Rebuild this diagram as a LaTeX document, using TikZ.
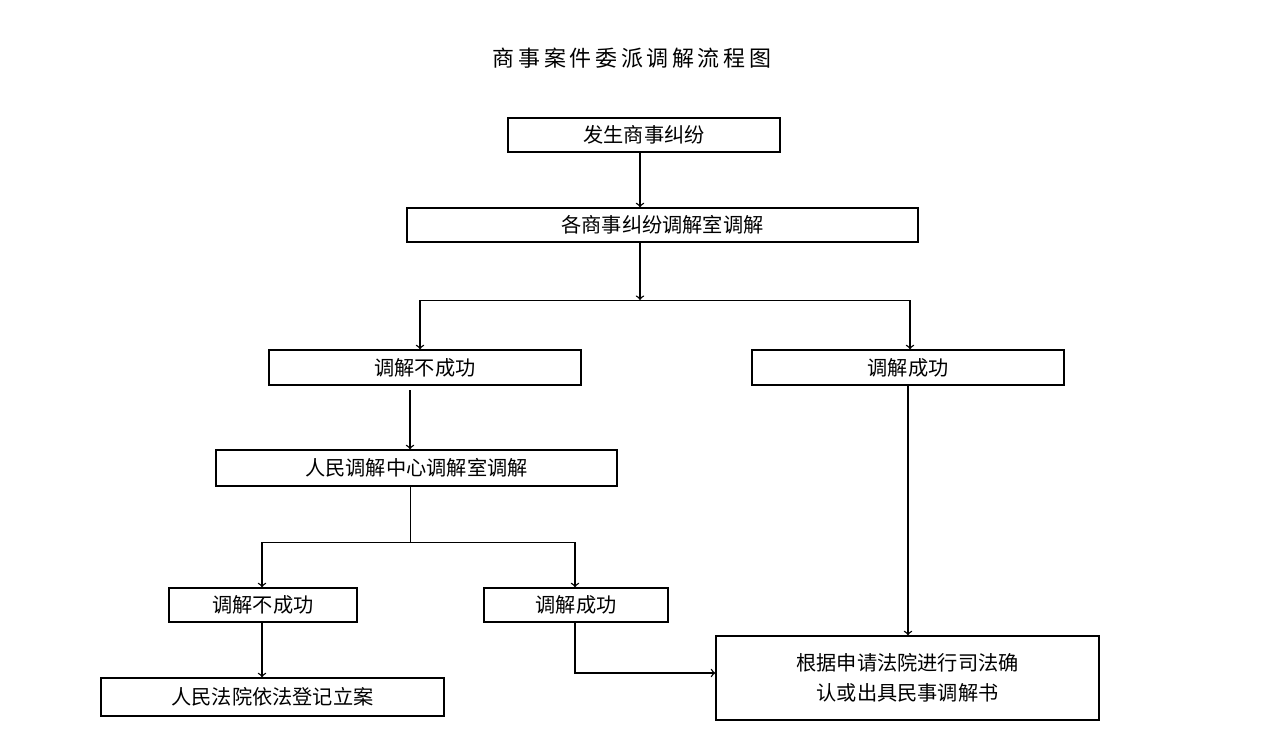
\documentclass[tikz,border=0pt]{standalone}
\usepackage{fontspec}
\newfontfamily\cjk{Noto Sans CJK SC}
\usetikzlibrary{positioning}

\begin{document}
\begin{tikzpicture}[x=0.02cm,y=-0.02cm,
  box/.style={draw,thick,inner sep=0pt,font=\cjk\fontsize{11.5}{17}\selectfont},
  arr/.style={->,thick}]
  \useasboundingbox (0,0) rectangle (1266,753);
  \node[font=\cjk\fontsize{12.5}{15}\selectfont] (title) at (632,58) {商\,事\,案\,件\,委\,派\,调\,解\,流\,程\,图};

  \node[box,minimum width=272*0.02cm,minimum height=34*0.02cm] (start) at (644,135) {发生商事纠纷}; % first box
  \node[box,minimum width=511*0.02cm,minimum height=34*0.02cm] (room) at (662.5,225) {各商事纠纷调解室调解};
  \node[box,minimum width=312*0.02cm,minimum height=35*0.02cm] (failA) at (425,367.5) {调解不成功};
  \node[box,minimum width=312*0.02cm,minimum height=35*0.02cm] (okA) at (908,367.5) {调解成功};
  \node[box,minimum width=401*0.02cm,minimum height=36*0.02cm] (center) at (416.5,468) {人民调解中心调解室调解};
  \node[box,minimum width=188*0.02cm,minimum height=34*0.02cm] (failB) at (263,605) {调解不成功};
  \node[box,minimum width=184*0.02cm,minimum height=34*0.02cm] (okB) at (576,605) {调解成功};
  \node[box,minimum width=343*0.02cm,minimum height=38*0.02cm] (court) at (272.5,697) {人民法院依法登记立案};
  \node[box,minimum width=383*0.02cm,minimum height=84*0.02cm,align=center] (confirm) at (907.5,678) {根据申请法院进行司法确\\认或出具民事调解书};

  \coordinate (splitA) at (640,300);
  \coordinate (splitB) at (410,542);
  \coordinate (bend) at (575,673);

  \draw[arr] (start.south -| 640,0) -- (room.north -| 640,0);
  \draw[arr] (room.south -| splitA) -- (splitA);
  \draw (420,300) -- (910,300);
  \draw[arr] (420,300) -- (failA.north -| 420,0);
  \draw[arr] (910,300) -- (okA.north -| 910,0);
  \draw[arr] (410,390) -- (center.north -| 410,0);
  \draw (center.south -| splitB) -- (splitB);
  \draw (262,542) -- (575,542);
  \draw[arr] (262,542) -- (failB.north -| 262,0);
  \draw[arr] (575,542) -- (okB.north -| 575,0);
  \draw[arr] (failB.south -| 262,0) -- (court.north -| 262,0);
  \draw[arr] (okA.south -| 908,0) -- (confirm.north -| 908,0);
  \draw[arr] (okB.south -| bend) -- (bend) -- (confirm.west |- bend);
\end{tikzpicture}
\end{document}
